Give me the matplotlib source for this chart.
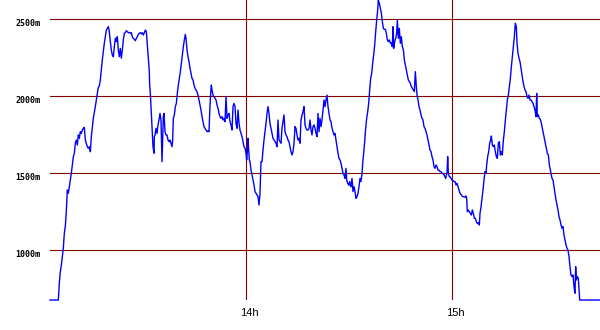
import matplotlib
matplotlib.use("Agg")
import matplotlib.pyplot as plt
from matplotlib.transforms import offset_copy

# time in minutes after 13:00, elevation in metres
t_min = [
    2.82, 5.25, 5.54, 5.83, 6.12, 6.41, 6.70, 6.99, 7.29, 7.58, 7.87, 8.16, 8.45, 8.74, 9.03, 9.32, 9.62, 9.91,
    10.20, 10.49, 10.78, 11.07, 11.36, 11.65, 11.95, 12.24, 12.53, 12.82, 13.11, 13.40, 13.69, 13.98, 14.28,
    14.57, 14.86, 15.15, 15.44, 15.73, 16.02, 16.31, 16.61, 16.90, 17.19, 17.48, 17.77, 18.06, 18.35, 18.64,
    18.94, 19.23, 19.52, 19.81, 20.10, 20.39, 20.68, 20.97, 21.27, 21.56, 21.85, 22.14, 22.43, 22.72, 23.01,
    23.30, 23.60, 23.89, 24.18, 24.47, 24.76, 25.05, 25.34, 25.63, 25.93, 26.22, 26.51, 26.80, 27.09, 27.38,
    27.67, 27.97, 28.26, 28.55, 28.84, 29.13, 29.42, 29.71, 30.00, 30.30, 30.59, 30.88, 31.17, 31.46, 31.75,
    31.85,
    32.05, 32.24, 32.53, 32.82, 33.12, 33.21, 33.41, 33.70, 33.99, 34.28, 34.57, 34.86, 35.15, 35.45, 35.64,
    35.83, 36.03, 36.32, 36.61, 36.90, 37.19, 37.48, 37.78, 38.07, 38.36, 38.55, 38.75, 39.04, 39.33, 39.62,
    39.91, 40.20, 40.49, 40.79, 41.08, 41.37, 41.66, 41.95, 42.24, 42.44, 42.73, 43.02, 43.31, 43.60, 43.89,
    44.18, 44.48, 44.77, 45.06, 45.35, 45.64, 45.93, 46.22, 46.52, 46.81, 47.10, 47.39, 47.68, 47.97, 48.26,
    48.56, 48.85, 49.14, 49.43, 49.72, 49.82, 50.01, 50.30, 50.59, 50.88, 51.18, 51.47, 51.76, 52.05, 52.34,
    52.63, 52.92, 53.22, 53.51, 53.80, 54.09, 54.38, 54.67, 54.96, 55.26, 55.55, 55.84, 56.13, 56.42, 56.71,
    57.00, 57.30, 57.59, 57.88, 58.17, 58.46, 58.75, 59.04, 59.34, 59.63, 59.92, 60.11, 60.30, 60.50, 60.69,
    60.89,
    61.08, 61.37, 61.66, 61.95, 62.25, 62.54, 62.83, 63.12, 63.41, 63.70, 63.99, 64.28, 64.58, 64.87, 65.16,
    65.45, 65.74, 66.03, 66.32, 66.61, 66.91, 67.20, 67.49, 67.78, 68.07, 68.36, 68.65, 68.95, 69.24, 69.53,
    69.82, 70.11, 70.40, 70.69, 70.98, 71.28, 71.57, 71.86, 72.15, 72.44, 72.73, 73.02, 73.31, 73.61, 73.90,
    74.19, 74.48, 74.77, 75.06, 75.35, 75.65, 75.94, 76.23, 76.52, 76.81, 77.10, 77.39, 77.68, 77.98, 78.27,
    78.56, 78.85, 79.14, 79.43, 79.72, 80.02, 80.31, 80.60, 80.89, 81.18, 81.47, 81.76, 82.05, 82.35, 82.64,
    82.93, 83.22, 83.51, 83.80, 84.09, 84.38, 84.68, 84.97, 85.26, 85.55, 85.84, 86.13, 86.42, 86.71, 87.01,
    87.30, 87.59, 87.88, 88.17, 88.46, 88.75, 89.05, 89.24, 89.53, 89.82, 90.11,
    90.21, 90.50, 90.79, 91.08, 91.38, 91.67, 91.96, 92.25, 92.54, 92.83, 93.12, 93.41, 93.71, 93.90, 94.19,
    94.48, 94.77, 95.07, 95.36, 95.65, 95.94, 96.23, 96.52, 96.81, 97.10, 97.40, 97.69, 97.98, 98.27, 98.46,
    98.75, 99.05, 99.34, 99.63, 99.92, 100.21, 100.50, 100.79, 101.09, 101.38, 101.67, 101.96, 102.25, 102.54,
    102.74, 102.93, 103.22, 103.51, 103.80, 104.00, 104.29, 104.58, 104.87, 105.16, 105.45, 105.75, 106.04,
    106.33, 106.62, 106.91, 107.20, 107.49, 107.78, 108.08, 108.37, 108.66, 108.95, 109.24, 109.53, 109.73,
    110.02, 110.31, 110.60, 110.89, 111.18, 111.47, 111.77, 112.06, 112.35, 112.64, 112.93, 113.22, 113.51,
    113.81, 114.10, 114.39, 114.68, 114.97, 115.26, 115.55, 115.84, 116.14, 116.43, 116.72, 117.01, 117.30,
    117.59, 117.88, 118.08, 118.27, 118.47, 118.66, 118.86, 119.15,
    119.34, 119.63, 119.92, 120.21, 120.51, 120.80, 121.09, 121.38, 121.67, 121.96, 122.25, 122.54, 122.84,
    123.13, 123.42, 123.71, 124.00, 124.20, 124.39, 124.68, 124.97, 125.26, 125.55, 125.85, 126.14, 126.43,
    126.72, 127.01, 127.30, 127.59, 127.88, 128.08, 128.37, 128.66, 128.95, 129.24, 129.54, 129.83, 130.02,
    130.31, 130.60, 130.89, 131.19, 131.38, 131.67, 131.96, 132.25, 132.55, 132.84, 133.13, 133.42, 133.71,
    134.00, 134.29, 134.58, 134.88, 135.17, 135.46, 135.75, 136.04, 136.33, 136.62, 136.92, 137.21, 137.50,
    137.79, 138.08, 138.37, 138.66, 138.86, 139.15, 139.44, 139.73, 140.02, 140.31, 140.61, 140.90, 141.19,
    141.48, 141.77, 142.06, 142.35, 142.64, 142.94, 143.23, 143.52, 143.81, 144.10, 144.39, 144.59, 144.78,
    145.07, 145.36, 145.65, 145.95, 146.24, 146.53, 146.82, 147.11, 147.40, 147.69, 147.98, 148.28,
    148.47, 148.76, 149.05, 149.34, 149.63, 149.92, 150.21, 150.50, 150.80, 151.09, 151.38, 151.67, 151.96,
    152.25, 152.54, 152.83, 153.13, 153.42, 153.71, 154.00, 154.29, 154.58, 154.87, 155.17, 155.46, 155.75,
    155.94, 156.14, 156.43, 156.72, 157.01, 157.11, 163.03,
]

elev_m = [
    677, 677, 790, 861, 904, 959, 1013, 1110, 1158, 1257, 1392, 1370, 1413, 1456, 1500, 1554, 1608, 1630,
    1695, 1716, 1684, 1749, 1727, 1770, 1759, 1781, 1792, 1798, 1716, 1695, 1673, 1662, 1673,
    1640, 1738, 1798, 1857, 1894, 1933, 1976, 2019, 2058, 2067, 2106, 2171, 2236, 2290, 2344,
    2387, 2430, 2441, 2452, 2420, 2355, 2301, 2268, 2257, 2322, 2376, 2355, 2387, 2301, 2257,
    2311, 2247, 2301, 2366, 2409, 2413, 2426, 2420, 2413, 2415, 2409, 2413, 2387, 2376, 2370,
    2361, 2376, 2387, 2402, 2409, 2413, 2405, 2413, 2398, 2413, 2430, 2420, 2333, 2247, 2160,
    2073,
    2019, 1933, 1792, 1673, 1630, 1738, 1749, 1792, 1759, 1814, 1846, 1889, 1846, 1575, 1716,
    1868, 1889, 1770, 1749, 1749, 1716, 1705, 1716, 1695, 1673, 1716, 1857, 1879, 1933, 1954,
    2019, 2073, 2117, 2160, 2214, 2268, 2322, 2366, 2402, 2376, 2301, 2257, 2225, 2182, 2149,
    2117, 2106, 2073, 2052, 2041, 2030, 2008, 1976, 1943, 1911, 1868, 1835, 1803, 1792, 1781,
    1770, 1775, 1770, 1943, 2052, 2073, 2041, 2008, 1998, 1987, 1976, 1943, 1922, 1889, 1868,
    1857, 1868, 1846, 1857, 1835, 1998, 1857, 1879, 1889, 1835, 1814, 1781, 1933, 1954, 1933,
    1824, 1792, 1911, 1824, 1781, 1759, 1738, 1705, 1673, 1662, 1630, 1586, 1640, 1727, 1651,
    1586,
    1575, 1521, 1489, 1456, 1424, 1381, 1370, 1359, 1348, 1294, 1370, 1575, 1575, 1651, 1716,
    1770, 1824, 1889, 1933, 1889, 1824, 1792, 1759, 1727, 1716, 1705, 1695, 1673, 1846, 1716,
    1705, 1695, 1792, 1835, 1879, 1770, 1749, 1738, 1716, 1705, 1673, 1640, 1619, 1640, 1695,
    1803, 1792, 1749, 1716, 1727, 1695, 1846, 1879, 1900, 1933, 1814, 1792, 1781, 1781, 1792,
    1846, 1781, 1749, 1803, 1814, 1792, 1759, 1738, 1889, 1770, 1857, 1803, 1846, 1911, 1976,
    1933, 1976, 2008, 1933, 1889, 1846, 1835, 1792, 1770, 1749, 1759, 1716, 1673, 1630, 1597,
    1586, 1565, 1532, 1500, 1489, 1467, 1532, 1456, 1435, 1424, 1446,
    1424, 1413, 1467, 1381, 1413, 1381, 1337, 1348, 1370, 1413, 1467, 1446, 1500, 1565, 1630,
    1705, 1792, 1857, 1900, 1954, 2041, 2117, 2149, 2214, 2268, 2333, 2420, 2495, 2560, 2625,
    2604, 2571, 2539, 2485, 2441, 2435, 2435, 2409, 2366, 2355, 2366, 2344, 2348, 2322,
    2452, 2311, 2355, 2376, 2409, 2495, 2376, 2441, 2344, 2387, 2322, 2301, 2236,
    2203, 2171, 2138, 2106, 2095, 2084, 2063, 2052, 2041, 2030, 2160, 2063, 2008,
    1976, 1933, 1911, 1879, 1857, 1846, 1803, 1792, 1770, 1749, 1716, 1684, 1651,
    1640, 1608, 1586, 1543, 1532, 1554, 1543, 1521, 1521, 1511, 1511, 1500, 1500,
    1489, 1478, 1467, 1489, 1500, 1608, 1500, 1478,
    1478, 1467, 1456, 1452, 1446, 1446, 1424, 1435, 1413, 1392, 1370, 1363, 1353,
    1348, 1348, 1344, 1353, 1337, 1251, 1262, 1251, 1240, 1229, 1262, 1240, 1208,
    1208, 1186, 1175, 1179, 1164, 1240, 1283, 1337, 1392, 1456, 1511, 1500, 1554,
    1608, 1640, 1695, 1716, 1742, 1684, 1673, 1684, 1640, 1608, 1597, 1695, 1705,
    1619, 1640, 1619, 1716, 1770, 1846, 1911, 1976, 2008, 2063, 2117, 2192, 2257,
    2322, 2387, 2474, 2452, 2344, 2279, 2247, 2225, 2182, 2138, 2095, 2063, 2041,
    2030, 1998, 1987, 2008, 1976, 1976, 1965, 1954, 1933, 1911, 1868, 2019, 1868,
    1879, 1857, 1850, 1824, 1792, 1759, 1727, 1695, 1662, 1630, 1619, 1554,
    1532, 1500, 1467, 1456, 1413, 1370, 1327, 1294, 1262, 1218, 1197, 1164, 1143,
    1154, 1099, 1067, 1034, 1013, 1002, 959, 894, 840, 829, 840, 764, 721,
    894, 807, 829, 818, 721, 677, 677,
]

grid_elev = [1000, 1500, 2000, 2500]
grid_labels = ["1000m", "1500m", "2000m", "2500m"]
hour_ticks = [60, 120]
hour_labels = ["14h", "15h"]

GRID = "#800000"
LINE = "#0000ff"

fig = plt.figure(figsize=(6.0, 3.3), dpi=100)
ax = fig.add_axes([50 / 600, 30 / 330, 550 / 600, 300 / 330])
ax.set_xlim(2.82, 163.03)
ax.set_ylim(677.2, 2625.3)
for s in ax.spines.values():
    s.set_visible(False)
ax.set_xticks([])
ax.set_yticks([])

for g in grid_elev:
    ax.axhline(g, color=GRID, lw=0.8, zorder=1)
for h in hour_ticks:
    ax.axvline(h, color=GRID, lw=0.8, zorder=1)

ax.plot(t_min, elev_m, color=LINE, lw=1.0, zorder=3, clip_on=False)

ytrans = offset_copy(ax.get_yaxis_transform(), fig=fig, x=-9.5, y=-4, units="dots")
for g, lab in zip(grid_elev, grid_labels):
    ax.text(0, g, lab, transform=ytrans, ha="right", va="center",
            fontsize=6, fontweight="bold", family="DejaVu Sans Mono", color="black")

xtrans = offset_copy(ax.get_xaxis_transform(), fig=fig, x=3, y=-12.5, units="dots")
for h, lab in zip(hour_ticks, hour_labels):
    ax.text(h, 0, lab, transform=xtrans, ha="center", va="center",
            fontsize=8, family="Liberation Sans", color="black")

fig.savefig("out.png", dpi=100, facecolor="white")
